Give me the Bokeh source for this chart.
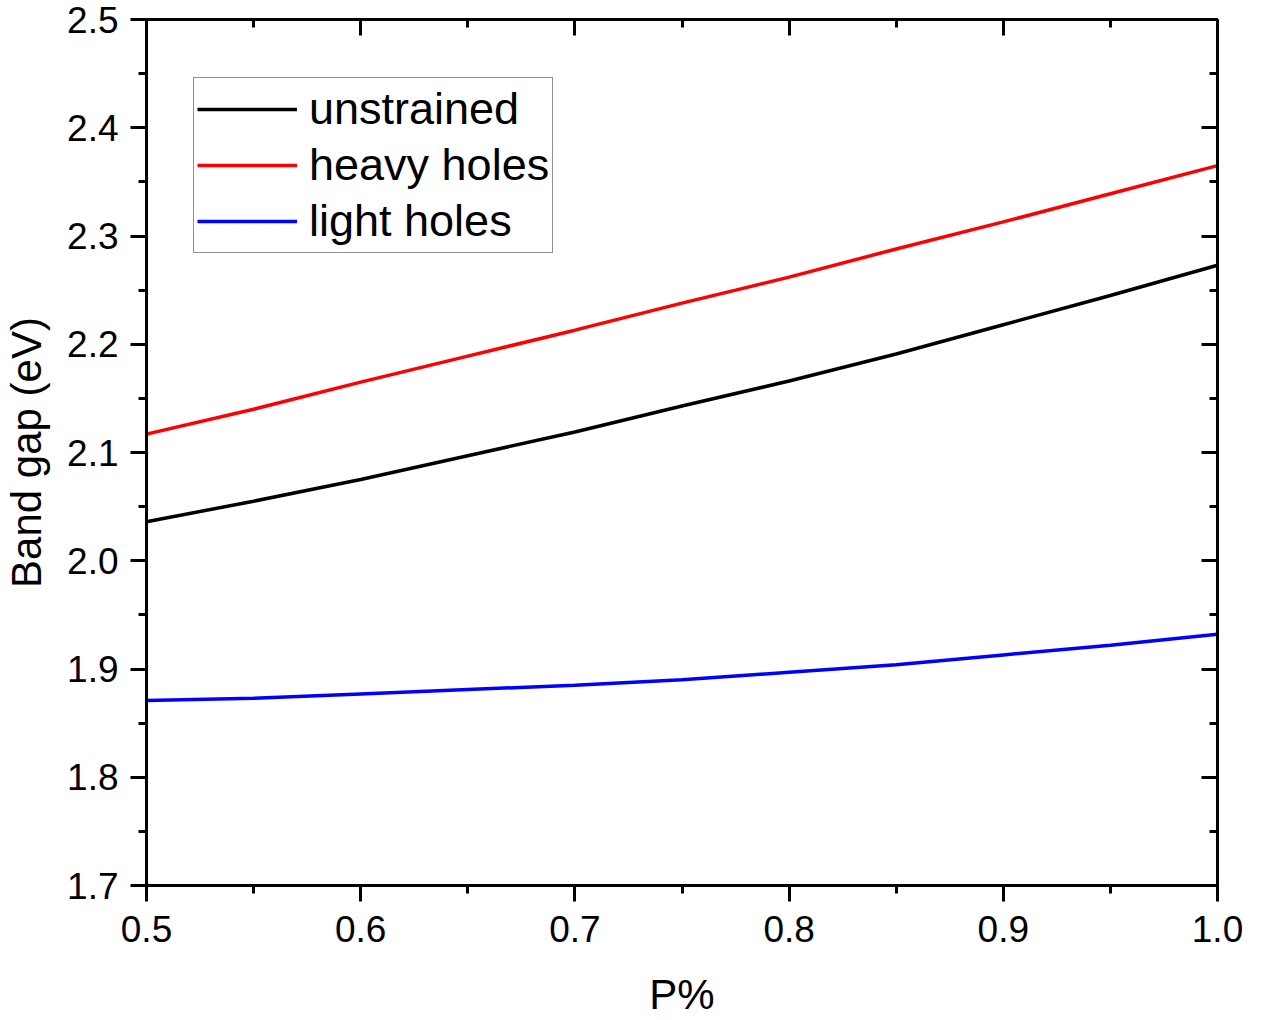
from bokeh.plotting import figure
from bokeh.models import (LinearAxis, SingleIntervalTicker, PrintfTickFormatter,
                          CustomJSTickFormatter, Legend, LegendItem, Range1d)
from bokeh.embed import file_html
from bokeh.resources import INLINE

# Data
p_percent = [0.50, 0.55, 0.60, 0.65, 0.70, 0.75, 0.80, 0.85, 0.90, 0.95, 1.00]
unstrained = [2.036, 2.055, 2.075, 2.097, 2.119, 2.143, 2.166, 2.191, 2.218, 2.245, 2.273]
heavy_holes = [2.117, 2.140, 2.165, 2.189, 2.213, 2.238, 2.262, 2.288, 2.313, 2.339, 2.365]
light_holes = [1.871, 1.873, 1.877, 1.881, 1.885, 1.890, 1.897, 1.904, 1.913, 1.922, 1.932]

series_names = ["unstrained", "heavy holes", "light holes"]
series_colors = ["#000000", "#ff0000", "#0000ff"]

FONT = "Liberation Sans"

p = figure(width=1262, height=1020, output_backend="svg", toolbar_location=None,
           x_range=Range1d(0.5, 1.0), y_range=Range1d(1.7, 2.5),
           x_axis_type=None, y_axis_type=None,
           min_border_left=142, min_border_right=45, min_border_top=19, min_border_bottom=135)
p.grid.visible = False
p.outline_line_color = None
p.background_fill_color = "white"
p.border_fill_color = "white"


def style_axis(ax, labels=True):
    ax.axis_line_width = 3
    ax.axis_line_color = "black"
    ax.major_tick_line_width = 3
    ax.minor_tick_line_width = 3
    ax.major_tick_line_color = "black"
    ax.minor_tick_line_color = "black"
    if labels:
        ax.major_tick_out = 16
        ax.major_tick_in = 0
        ax.minor_tick_out = 8
        ax.minor_tick_in = 0
        ax.major_label_text_font = FONT
        ax.major_label_text_font_size = "37px"
        ax.major_label_text_color = "black"
        ax.axis_label_text_font = FONT
        ax.axis_label_text_font_size = "42px"
        ax.axis_label_text_font_style = "normal"
        ax.axis_label_text_color = "black"
        ax.formatter = PrintfTickFormatter(format="%.1f")
    else:
        ax.major_tick_out = 0
        ax.major_tick_in = 16
        ax.minor_tick_out = 0
        ax.minor_tick_in = 8
        ax.formatter = CustomJSTickFormatter(code="return ''")
        ax.major_label_text_font_size = "0px"


xb = LinearAxis(ticker=SingleIntervalTicker(interval=0.1, num_minor_ticks=2), axis_label="P%")
style_axis(xb)
xb.major_label_standoff = 14
xb.axis_label_standoff = 26
p.add_layout(xb, "below")

yl = LinearAxis(ticker=SingleIntervalTicker(interval=0.1, num_minor_ticks=2), axis_label="Band gap (eV)")
style_axis(yl)
yl.major_label_standoff = 12
yl.axis_label_standoff = 14
p.add_layout(yl, "left")

xt = LinearAxis(ticker=SingleIntervalTicker(interval=0.1, num_minor_ticks=2))
style_axis(xt, labels=False)
p.add_layout(xt, "above")

yr = LinearAxis(ticker=SingleIntervalTicker(interval=0.1, num_minor_ticks=2))
style_axis(yr, labels=False)
p.add_layout(yr, "right")

renderers = []
for ys, c in zip([unstrained, heavy_holes, light_holes], series_colors):
    r = p.line(p_percent, ys, line_color=c, line_width=3.5)
    renderers.append(r)

legend = Legend(items=[LegendItem(label=n, renderers=[r]) for n, r in zip(series_names, renderers)],
                location=(47, 632))
legend.label_text_font = FONT
legend.label_text_font_size = "45px"
legend.label_text_color = "black"
legend.label_height = 56
legend.glyph_height = 56
legend.glyph_width = 100
legend.label_standoff = 12
legend.padding = 3
legend.spacing = 0
legend.margin = 0
legend.border_line_color = "#222222"
legend.border_line_width = 1.5
legend.background_fill_color = "white"
legend.background_fill_alpha = 1
p.add_layout(legend, "center")

open("out.html", "w").write(file_html(p, INLINE))
